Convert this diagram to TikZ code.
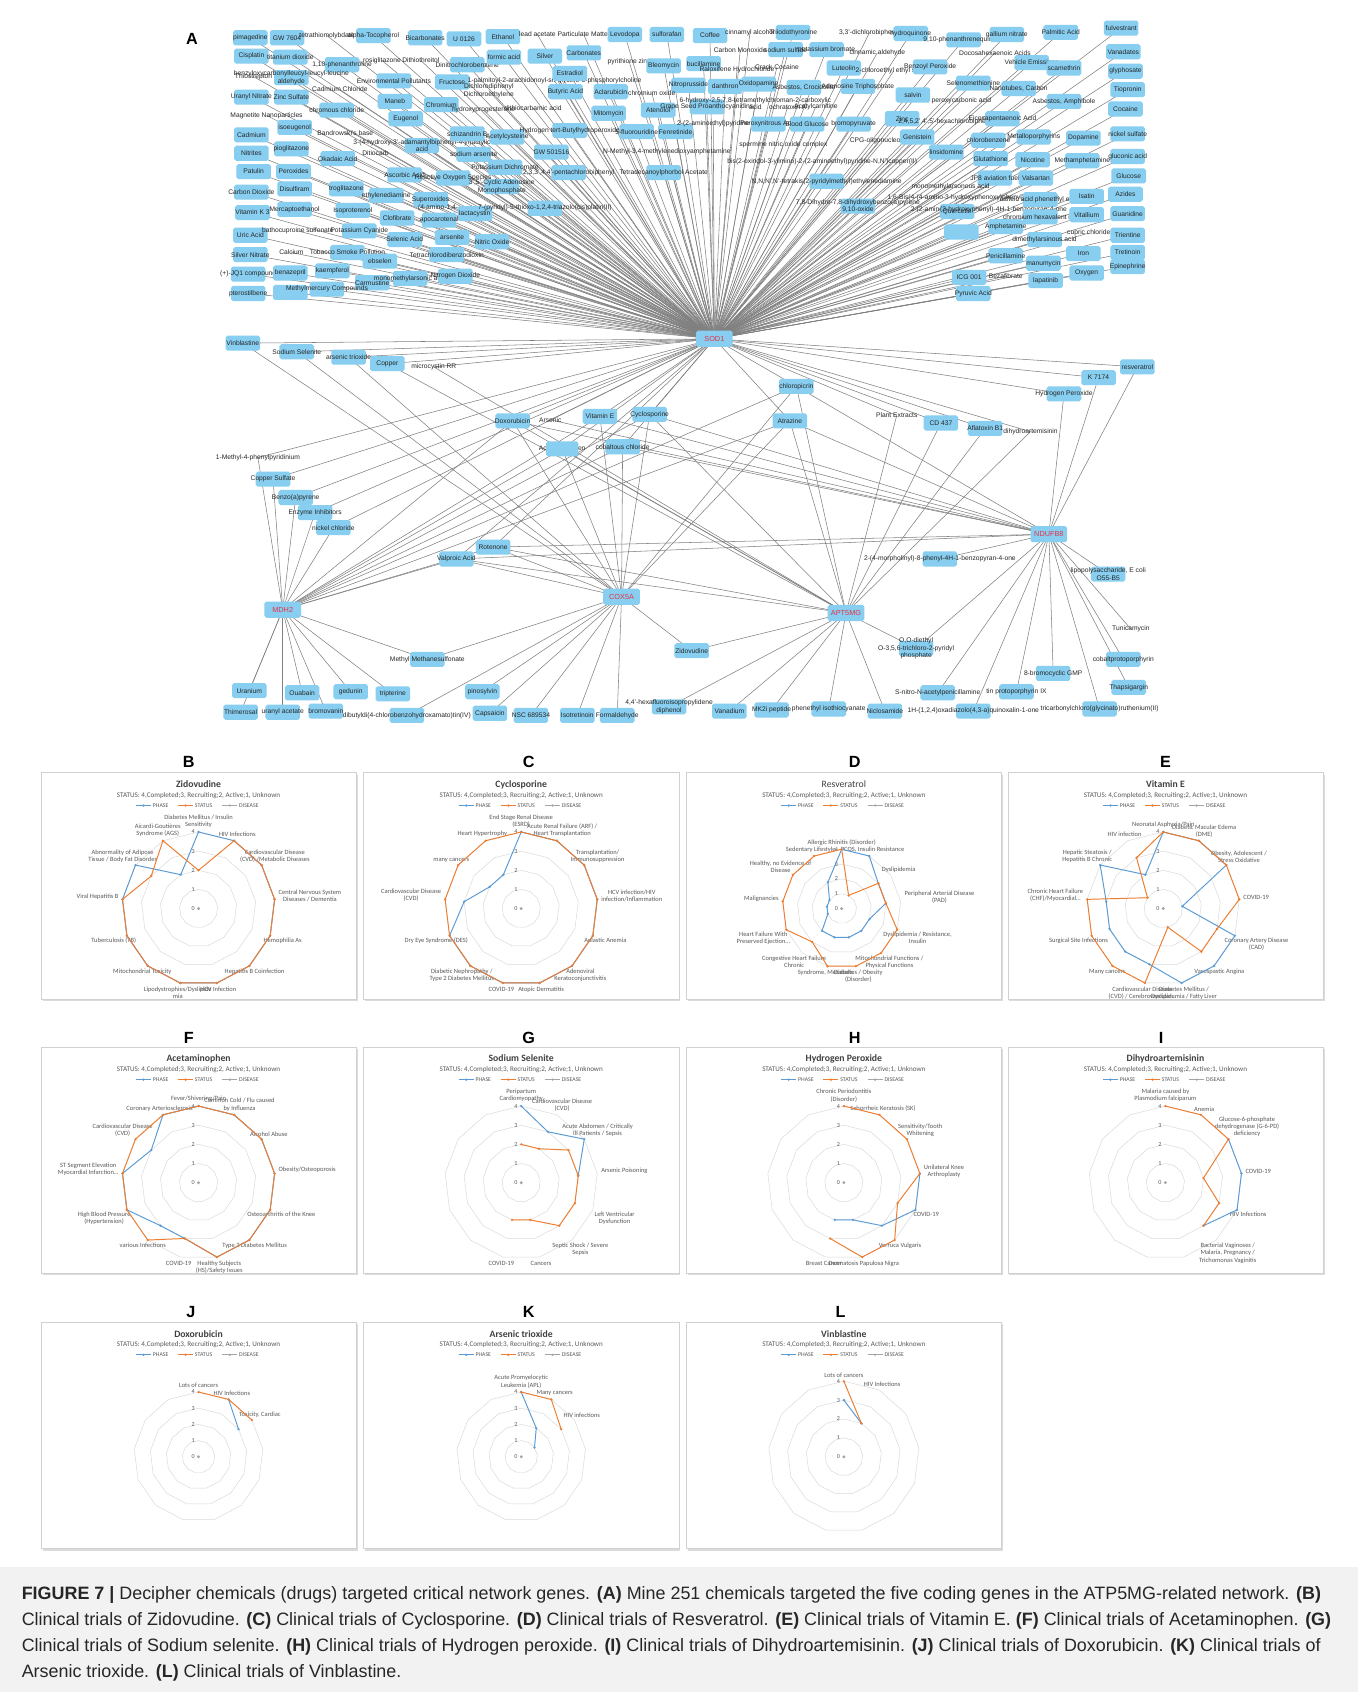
\documentclass[tikz,border=0pt]{standalone}
\usepackage{fontspec}
\setmainfont{Liberation Sans}
\newfontfamily\calfont{Carlito}
\usetikzlibrary{calc}
\pgfdeclarelayer{back}
\pgfdeclarelayer{bg}
\pgfsetlayers{back,bg,main}
\definecolor{nodeblue}{RGB}{135,206,240}
\definecolor{hubred}{RGB}{230,50,70}
\definecolor{edgegray}{RGB}{128,128,128}
\definecolor{xlblue}{RGB}{91,155,213}
\definecolor{xlorange}{RGB}{237,125,49}
\definecolor{xlgray}{RGB}{165,165,165}
\definecolor{gridgray}{RGB}{217,217,217}
\newcounter{nc}
\tikzset{
 bx/.style={rectangle,rounded corners=1.8pt,fill=nodeblue,minimum width=32pt,minimum height=14pt,inner sep=0pt},
 tx/.style={font=\fontsize{6.2}{7}\selectfont,inner sep=0pt,align=center,text=black!85},
 hub/.style={bx,minimum width=34pt,minimum height=15pt,font=\fontsize{6.8}{7}\selectfont,text=hubred},
 edge/.style={draw=edgegray,line width=0.5pt},
 ctitle/.style={font=\calfont\bfseries\fontsize{9}{10}\selectfont,text=black!75,inner sep=0pt},
 csub/.style={font=\calfont\fontsize{6.6}{7}\selectfont,text=black!65,inner sep=0pt},
 cleg/.style={font=\calfont\fontsize{5.4}{6}\selectfont,text=black!65,inner sep=0pt},
 clab/.style={font=\calfont\fontsize{6}{6.6}\selectfont,text=black!65,inner sep=0.6pt,align=center},
 cnum/.style={font=\calfont\fontsize{5.6}{6}\selectfont,text=black!65,inner sep=0pt},
 plet/.style={font=\bfseries\fontsize{15}{16}\selectfont,inner sep=0pt},
 capt/.style={font=\fontsize{16.6}{19}\selectfont,text=black!85,anchor=west,inner sep=0pt},
 bline/.style={draw=xlblue,line width=0.9pt,line join=round},
 oline/.style={draw=xlorange,line width=0.9pt,line join=round}
}
\newcommand\topb[3]{\stepcounter{nc}\node[bx] (b\arabic{nc}) at (#1,#2) {};\node[tx] (b\arabic{nc}l) at (#1,#2) {#3};\begin{pgfonlayer}{bg}\draw[edge] (b\arabic{nc}.center) -- (sod.center);\end{pgfonlayer}}
\newcommand\topt[3]{\stepcounter{nc}\node[tx] (b\arabic{nc}) at (#1,#2) {#3};\begin{pgfonlayer}{bg}\draw[edge] (b\arabic{nc}.center) -- (sod.center);\end{pgfonlayer}}
\newcommand\lnb[4]{\node[bx] (#1) at (#2,#3) {};\node[tx] (#1l) at (#2,#3) {#4};}
\newcommand\lnt[4]{\node[tx] (#1) at (#2,#3) {#4};}
% panel: left top title
\newcommand\panel[3]{%
 \fill[black!14] ({#1+1.5},{#2+1.8}) rectangle ({#1+293.5},{#2+212});
 \draw[black!18,fill=white,line width=0.4pt] (#1,#2) rectangle ({#1+292},{#2+210});
 \node[ctitle] (pti) at ({#1+146},{#2+11}) {#3};
 \node[csub] (psu) at ({#1+146},{#2+21}) {STATUS: 4,Completed;3, Recruiting;2, Active;1, Unknown};
 \draw[xlblue,line width=0.8pt] ({#1+88},{#2+30.5}) -- ({#1+102},{#2+30.5});
 \fill[xlblue] ({#1+95},{#2+30.5}) circle (1.2);
 \node[cleg,anchor=west] (pl1) at ({#1+103.5},{#2+30.5}) {PHASE};
 \draw[xlorange,line width=0.8pt] ({#1+127},{#2+30.5}) -- ({#1+141},{#2+30.5});
 \fill[xlorange] ({#1+134},{#2+30.5}) circle (1.2);
 \node[cleg,anchor=west] (pl2) at ({#1+142.5},{#2+30.5}) {STATUS};
 \draw[xlgray,line width=0.8pt] ({#1+168},{#2+30.5}) -- ({#1+182},{#2+30.5});
 \fill[xlgray] ({#1+175},{#2+30.5}) circle (1.2);
 \node[cleg,anchor=west] (pl3) at ({#1+183.5},{#2+30.5}) {DISEASE};
}
% radar: cx cy R n labels blue orange closed bluestart
\newcommand\radar[9]{%
\begin{scope}[shift={(#1,#2)}]
 \foreach \k in {1,...,4}{\pgfmathsetmacro\rr{\k*#3/4}
   \draw[gridgray,line width=0.45pt] (0,-\rr) \foreach \i in {1,...,#4}{ -- ({\rr*sin(\i*360/#4)},{-\rr*cos(\i*360/#4)})} -- cycle;}
 \foreach \k in {0,...,4}{\node[cnum] (rn\k) at (-5,{-\k*#3/4}) {\k};}
 \foreach \lab [count=\i from 0] in {#5}{%
   \pgfmathsetmacro\ang{mod(630-\i*360/#4,360)}%
   \pgfmathsetmacro\ax{(#3+3)*sin(\i*360/#4)}%
   \pgfmathsetmacro\ay{-(#3+3)*cos(\i*360/#4)}%
   \node[clab,anchor=\ang] (rl\i) at (\ax,\ay) {\lab};}
 \pgfmathtruncatemacro\st{#9+1}%
 \foreach \v [count=\i from #9] in {#6}{\coordinate (bp\i) at ({\v*#3/4*sin(\i*360/#4)},{-\v*#3/4*cos(\i*360/#4)});\xdef\nb{\i}}
 \ifnum#8=1 \draw[bline] (bp#9) \foreach \i in {\st,...,\nb}{ -- (bp\i)} -- cycle;
 \else \draw[bline] (bp#9) \foreach \i in {\st,...,\nb}{ -- (bp\i)};\fi
 \foreach \i in {#9,...,\nb}{\fill[xlblue] (bp\i) circle (1.2);}
 \foreach \v [count=\i from 0] in {#7}{\coordinate (op\i) at ({\v*#3/4*sin(\i*360/#4)},{-\v*#3/4*cos(\i*360/#4)});\xdef\nb{\i}}
 \ifnum#8=1 \draw[oline] (op0) \foreach \i in {1,...,\nb}{ -- (op\i)} -- cycle;
 \else \draw[oline] (op0) \foreach \i in {1,...,\nb}{ -- (op\i)};\fi
 \foreach \i in {0,...,\nb}{\fill[xlorange] (op\i) circle (1.2);}
 \fill[xlgray] (0,0) circle (1.5);
\end{scope}}

\begin{document}
\begin{tikzpicture}[x=1pt,y=-1pt]
\useasboundingbox (0,0) rectangle (1258,1568);
\begin{pgfonlayer}{back}
\fill[white] (0,0) rectangle (1258,1568);
\fill[black!5] (0,1452) rectangle (1258,1568);
\end{pgfonlayer}

\node[plet] (letA) at (178,36) {A};

% hubs
\node[hub] (sod) at (662,314) {SOD1};
\node[hub] (mdh) at (262,565) {MDH2};
\node[hub] (cox) at (576,553) {COX5A};
\node[hub] (apt) at (784,568) {APT5MG};
\node[hub] (ndu) at (972,495) {NDUFB8};

% ---------- chemicals linked to SOD1 (top cloud) ----------
\topb{232}{35}{pimagedine}
\topb{266}{35}{GW 7604}
\topt{303}{33}{tetrathiomolybdate}
\topb{346}{33}{alpha-Tocopherol}
\topb{394}{35}{Bicarbonates}
\topb{430}{36}{U 0126}
\topb{466}{34}{Ethanol}
\topt{498}{32}{lead acetate}
\topt{541}{32}{Particulate Matter}
\topb{579}{32}{Levodopa}
\topb{618}{32}{sulforafan}
\topb{658}{33}{Coffee}
\topb{735}{30}{Triiodothyronine}
\topt{695}{30}{cinnamyl alcohol}
\topt{806}{30}{3,3'-dichlorobiphenyl}
\topb{844}{31}{hydroquinone}
\topb{893}{37}{9,10-phenanthrenequinone}
\topb{933}{32}{gallium nitrate}
\topb{983}{30}{Palmitic Acid}
\topb{1039}{26}{fulvestrant}
\topb{233}{52}{Cisplatin}
\topb{269}{53}{titanium dioxide}
\topb{317}{60}{1,10-phenanthroline}
\topt{354}{56}{rosiglitazone}
\topt{390}{56}{Dithiothreitol}
\topb{433}{60}{Dinitrochlorobenzene}
\topb{467}{53}{formic acid}
\topb{505}{52}{Silver}
\topb{541}{49}{Carbonates}
\topt{583}{57}{pyrithione zinc}
\topb{615}{61}{Bleomycin}
\topb{652}{59}{bucillamine}
\topt{686}{46}{Carbon Monoxide}
\topb{728}{46}{sodium sulfide}
\topb{766}{46}{potassium bromate}
\topt{813}{49}{cinnamic aldehyde}
\topt{922}{49}{Docosahexaenoic Acids}
\topb{1041}{48}{Vanadates}
\topt{235}{71}{Thiostrepton}
\topb{270}{72}{benzyloxycarbonylleucyl-leucyl-leucine\\aldehyde}
\topt{315}{83}{Cadmium Chloride}
\topb{365}{75}{Environmental Pollutants}
\topb{419}{76}{Fructose}
\topt{514}{75}{1-palmitoyl-2-arachidonoyl-sn-glycero-3-phosphorylcholine}
\topt{453}{84}{Dichlorodiphenyl\\Dichloroethylene}
\topb{528}{68}{Estradiol}
\topb{638}{79}{Nitroprusside}
\topb{672}{80}{danthron}
\topt{683}{65}{Raloxifene Hydrochloride}
\topt{720}{62}{Crack Cocaine}
\topb{782}{63}{Luteolin}
\topt{828}{66}{2-chloroethyl ethyl sulfide}
\topb{862}{62}{Benzoyl Peroxide}
\topb{956}{58}{Vehicle Emissions}
\topb{986}{63}{scamethrin}
\topb{1043}{66}{glyphosate}
\topb{233}{90}{Uranyl Nitrate}
\topb{270}{90}{Zinc Sulfate}
\topb{366}{94}{Maneb}
\topb{409}{97}{Chromium}
\topt{448}{102}{hydroxyprogesterone}
\topb{524}{85}{Butyric Acid}
\topb{566}{85}{Aclarubicin}
\topt{604}{86}{chromium oxide}
\topb{703}{78}{Oxidopamine}
\topb{745}{81}{Asbestos, Crocidolite}
\topb{795}{80}{Adenosine Triphosphate}
\topb{846}{88}{salvin}
\topb{902}{77}{Selenomethionine}
\topt{891}{93}{peroxycarbonic acid}
\topb{944}{82}{Nanotubes, Carbon}
\topb{1045}{83}{Tiopronin}
\topb{986}{94}{Asbestos, Amphibole}
\topb{1043}{101}{Cocaine}
\topt{247}{107}{Magnetite Nanoparticles}
\topb{312}{102}{chromous chloride}
\topb{376}{110}{Eugenol}
\topt{494}{100}{dithiocarbamic acid}
\topb{564}{105}{Mitomycin}
\topb{610}{102}{Atenolol}
\topb{655}{99}{Grape Seed Proanthocyanidins}
\topt{700}{96}{6-hydroxy-2,5,7,8-tetramethylchroman-2-carboxylic\\acid}
\topt{730}{99}{ochratoxin A}
\topt{756}{99}{Acetylcarnitine}
\topb{836}{110}{Zinc}
\topt{877}{113}{2,4,5,2',4',5'-hexachlorobiphenyl}
\topb{929}{110}{Eicosapentaenoic Acid}
\topb{233}{125}{Cadmium}
\topb{273}{118}{isoeugenol}
\topt{320}{123}{Bandrowski's base}
\topb{391}{135}{3-(4-hydroxy-3'-adamantylbiphenyl-4-yl)acrylic\\acid}
\topb{433}{124}{schizandrin B}
\topb{470}{127}{Acetylcysteine}
\topb{528}{121}{Hydrogen tert-Butylhydroperoxide}
\topb{590}{122}{5-fluorouridine}
\topb{626}{122}{Fenretinide}
\topt{661}{115}{2-(2-aminoethyl)pyridine}
\topb{712}{115}{Peroxynitrous Acid}
\topb{748}{115}{Blood Glucose}
\topb{791}{115}{bromopyruvate}
\topt{816}{130}{CPG-oligonucleotide}
\topb{850}{127}{Genistein}
\topb{877}{141}{linsidomine}
\topb{916}{130}{chlorobenzene}
\topb{958}{127}{Metalloporphyrins}
\topb{1004}{128}{Dopamine}
\topb{1045}{124}{nickel sulfate}
\topb{233}{142}{Nitrites}
\topb{270}{138}{pioglitazone}
\topb{313}{147}{Okadaic Acid}
\topt{348}{142}{Ditiocarb}
\topb{439}{143}{sodium arsenite}
\topb{511}{141}{GW 501516}
\topt{618}{141}{N-Methyl-3,4-methylenedioxyamphetamine}
\topt{726}{134}{spermine nitric oxide complex}
\topt{762}{150}{bis(2-oxindol-3-ylimino)-2-(2-aminoethyl)pyridine-N,N')copper(II)}
\topb{918}{147}{Glutathione}
\topb{957}{148}{Nicotine}
\topb{1003}{149}{Methamphetamine}
\topb{1045}{145}{gluconic acid}
\topb{235}{159}{Patulin}
\topb{272}{159}{Peroxides}
\topb{375}{162}{Ascorbic Acid}
\topb{420}{165}{Reactive Oxygen Species}
\topb{468}{155}{Potassium Dichromate}
\topb{465}{173}{3',5'-Cyclic Adenosine\\Monophosphate}
\topb{527}{160}{2,3,3',4,4'-pentachlorobiphenyl}
\topb{615}{160}{Tetradecanoylphorbol Acetate}
\topb{766}{168}{N,N,N',N'-tetrakis(2-pyridylmethyl)ethylenediamine}
\topb{922}{165}{JP8 aviation fuel}
\topb{960}{165}{Valsartan}
\topb{1046}{163}{Glucose}
\topb{233}{178}{Carbon Dioxide}
\topb{273}{175}{Disulfiram}
\topb{321}{175}{troglitazone}
\topb{358}{181}{ethylenediamine}
\topb{399}{185}{Superoxides}
\topt{406}{193}{(4-amino-1,4-}
\topb{440}{198}{lactacystin}
\topb{505}{193}{7-(pyridyl)-5-thioxo-1,2,4-triazolo(cis)platin(II)}
\topt{881}{173}{monomethylarsonous acid}
\topt{902}{183}{1,6-Bis(4-(4-amino-3-hydroxyphenoxy)phenyl)diamantane}
\topb{964}{185}{caffeic acid phenethyl ester}
\topb{1007}{182}{Isatin}
\topb{1043}{180}{Azides}
\topb{795}{191}{7,8-Dihydro-7,8-dihydroxybenzo(a)pyrene\\9,10-oxide}
\topt{859}{194}{2-(2-amino}
\topb{887}{196}{Quercetin}
\topt{930}{194}{(3-hydroxyphenyl)-4H-1-benzopyran-4-one}
\topb{964}{201}{chromium hexavalent ion}
\topb{1007}{199}{Vitallium}
\topb{1045}{198}{Guanidine}
\topb{234}{197}{Vitamin K 3}
\topb{273}{194}{Mercaptoethanol}
\topb{327}{195}{Isoproterenol}
\topb{368}{202}{Clofibrate}
\topb{407}{204}{apocarotenal}
\topb{232}{218}{Uric Acid}
\topt{276}{214}{bathocuproine sulfonate}
\topb{333}{214}{Potassium Cyanide}
\topb{375}{222}{Selenic Acid}
\topb{419}{220}{arsenite}
\topb{456}{224}{Nitric Oxide}
\topb{891}{215}{}
\topb{932}{210}{Amphetamine}
\topt{1009}{216}{cupric chloride}
\topb{968}{222}{dimethylarsinous acid}
\topb{1045}{218}{Trientine}
\topb{232}{236}{Silver Nitrate}
\topt{270}{234}{Calcium}
\topb{322}{234}{Tobacco Smoke Pollution}
\topb{352}{242}{ebselen}
\topb{414}{236}{Tetrachlorodibenzodioxin}
\topb{932}{237}{Penicillamine}
\topb{967}{244}{manumycin}
\topb{1004}{235}{Iron}
\topb{1045}{234}{Tretinoin}
\topb{1045}{247}{Epinephrine}
\topb{230}{254}{(+)-JQ1 compound}
\topb{269}{253}{benazepril}
\topb{308}{251}{kaempferol}
\topb{345}{262}{Carmustine}
\topb{380}{258}{monomethylarsonic acid}
\topb{422}{256}{Nitrogen Dioxide}
\topb{898}{257}{ICG 001}
\topt{932}{256}{Bezafibrate}
\topb{969}{260}{lapatinib}
\topb{1007}{253}{Oxygen}
\topb{230}{272}{pterostilbene}
\topb{269}{271}{}
\topb{303}{268}{Methylmercury Compounds}
\topb{902}{272}{Pyruvic Acid}

% ---------- lower network ----------
\lnb{vinb}{225}{318}{Vinblastine}
\lnb{sodsel}{275}{326}{Sodium Selenite}
\lnb{arstri}{323}{331}{arsenic trioxide}
\lnb{copper}{359}{337}{Copper}
\lnt{micro}{402}{340}{microcystin RR}
\lnb{doxo}{475}{390}{Doxorubicin}
\lnt{arsenic}{510}{389}{Arsenic}
\lnb{vite}{556}{386}{Vitamin E}
\lnb{cyclo}{602}{384}{Cyclosporine}
\lnt{acet}{521}{416}{Acetaminophen}
\node[bx,minimum width=30pt] (acetbox) at (521,416) {};
\lnb{cobalt}{577}{414}{cobaltous chloride}
\lnb{chloro}{738}{358}{chloropicrin}
\lnb{atraz}{732}{390}{Atrazine}
\lnt{plant}{831}{385}{Plant Extracts}
\lnb{cd}{872}{392}{CD 437}
\lnb{afla}{913}{397}{Aflatoxin B1}
\lnt{dihydro}{955}{400}{dihydroartemisinin}
\lnb{k71}{1018}{350}{K 7174}
\lnb{resv}{1054}{340}{resveratrol}
\lnb{hpero}{986}{365}{Hydrogen Peroxide}
\lnt{mpp}{239}{424}{1-Methyl-4-phenylpyridinium}
\lnb{cuso}{253}{444}{Copper Sulfate}
\lnb{bap}{274}{461}{Benzo(a)pyrene}
\lnb{enzi}{292}{475}{Enzyme Inhibitors}
\lnb{nicl}{309}{489}{nickel chloride}
\lnb{rot}{457}{507}{Rotenone}
\lnb{valp}{423}{518}{Valproic Acid}
\lnb{morph}{871}{518}{2-(4-morpholinyl)-8-phenyl-4H-1-benzopyran-4-one}
\lnb{lps}{1027}{532}{lipopolysaccharide, E coli\\O55-B5}
\lnt{tunica}{1048}{583}{Tunicamycin}
\lnb{oodi}{849}{601}{O,O-diethyl\\O-3,5,6-trichloro-2-pyridyl\\phosphate}
\lnb{cobpp}{1041}{611}{cobaltprotoporphyrin}
\lnb{brgmp}{976}{624}{8-bromocyclic GMP}
\lnb{thaps}{1046}{637}{Thapsigargin}
\lnb{snap}{869}{642}{S-nitro-N-acetylpenicillamine}
\lnb{tinpp}{942}{641}{tin protoporphyrin IX}
\lnb{zido}{641}{603}{Zidovudine}
\lnb{mms}{396}{611}{Methyl Methanesulfonate}
\lnb{uran}{231}{640}{Uranium}
\lnb{ouab}{280}{642}{Ouabain}
\lnb{gedu}{325}{641}{gedunin}
\lnb{tript}{364}{643}{tripterine}
\lnb{pinos}{447}{641}{pinosylvin}
\lnb{thim}{223}{660}{Thimerosal}
\lnb{urac}{262}{660}{uranyl acetate}
\lnb{bromov}{302}{659}{bromovanin}
\lnb{dibut}{377}{663}{dibutyldi(4-chlorobenzohydroxamato)tin(IV)}
\lnb{caps}{454}{661}{Capsaicin}
\lnb{nsc}{492}{663}{NSC 689534}
\lnb{isot}{535}{663}{Isotretinoin}
\lnb{formal}{572}{663}{Formaldehyde}
\lnb{hexa}{620}{655}{4,4'-hexafluoroisopropylidene\\diphenol}
\lnb{vana}{676}{659}{Vanadium}
\lnb{mk2}{715}{658}{MK2i peptide}
\lnb{pitc}{768}{657}{phenethyl isothiocyanate}
\lnb{niclo}{820}{659}{Niclosamide}
\lnb{oxad}{902}{659}{1H-(1,2,4)oxadiazolo(4,3-a)quinoxalin-1-one}
\lnb{ruth}{1019}{657}{tricarbonylchloro(glycinato)ruthenium(II)}

\begin{pgfonlayer}{bg}
\foreach \a in {vinb,sodsel,arstri,copper,micro,doxo,arsenic,vite,cyclo,acet,cobalt,chloro,atraz,plant,cd,afla,dihydro,k71,resv,hpero,mpp,cuso,bap,enzi,nicl,rot,valp}{\draw[edge] (\a.center) -- (sod.center);}
\foreach \a in {uran,thim,urac,ouab,bromov,gedu,tript,mms,mpp,cuso,bap,enzi,nicl,doxo,vite,acet,cyclo,chloro,atraz,rot,valp,cobalt}{\draw[edge] (\a.center) -- (mdh.center);}
\foreach \a in {vinb,sodsel,arstri,doxo,vite,acet,cobalt,chloro,atraz,rot,valp,mms,zido,nsc,isot,formal,caps,pinos,dibut,cyclo}{\draw[edge] (\a.center) -- (cox.center);}
\foreach \a in {copper,micro,doxo,cyclo,acet,chloro,atraz,plant,cd,afla,dihydro,zido,hexa,vana,mk2,pitc,niclo,oodi,rot,valp}{\draw[edge] (\a.center) -- (apt.center);}
\foreach \a in {k71,resv,hpero,arsenic,cyclo,cobalt,chloro,atraz,rot,valp,morph,lps,tunica,cobpp,thaps,ruth,brgmp,tinpp,oxad,snap,oodi,vite,doxo}{\draw[edge] (\a.center) -- (ndu.center);}
\end{pgfonlayer}

% ---------- panel letters ----------
\node[plet] (lB) at (175,706) {B};
\node[plet] (lC) at (490,706) {C};
\node[plet] (lD) at (792,706) {D};
\node[plet] (lE) at (1080,706) {E};
\node[plet] (lF) at (175,962) {F};
\node[plet] (lG) at (490,962) {G};
\node[plet] (lH) at (792,962) {H};
\node[plet] (lI) at (1076,962) {I};
\node[plet] (lJ) at (177,1216) {J};
\node[plet] (lK) at (490,1216) {K};
\node[plet] (lL) at (779,1216) {L};

% ---------- radar panels ----------
\panel{38}{716}{Zidovudine}
\radar{184}{842}{71}{13}{{Diabetes Mellitus / Insulin\\Sensitivity},{HIV Infections},{Cardiovascular Disease\\(CVD) /Metabolic Diseases},{Central Nervous System\\Diseases / Dementia},{Hemophilia As},{Hepatitis B Coinfection},{HCV Infection},{Lipodystrophies/Dyslipide\\mia},{Mitochondrial Toxicity},{Tuberculosis (TB)},{Viral Hepatitis B},{Abnormality of Adipose\\Tissue / Body Fat Disorder},{Aicardi-Goutières\\Syndrome (AGS)}}{4,4,4,4,4,4,4,4,4,4,4,4,2}{2,4,4,4,4,4,4,4,4,4,4,3,4}{1}{0}

\panel{337}{716}{Cyclosporine}
\radar{483}{842}{71}{13}{{End Stage Renal Disease\\(ESRD)},{Acute Renal Failure (ARF) /\\Heart Transplantation},{Transplantation/\\Immunosuppression},{HCV infection/HIV\\infection/Inflammation},{Aplastic Anemia},{Adenoviral\\Keratoconjunctivitis},{Atopic Dermatitis},{COVID-19},{Diabetic Nephropathy /\\Type 2 Diabetes Mellitus},{Dry Eye Syndrome (DES)},{Cardiovascular Disease\\(CVD)},{many cancers},{Heart Hypertrophy}}{4,4,4,4,4,4,4,4,4,4,3,2,2}{4,4,4,4,4,4,4,4,4,4,4,4,4}{1}{0}

\panel{636}{716}{\mdseries Resveratrol}
\radar{780}{842}{55}{13}{{Allergic Rhinitis (Disorder)},{PCOS, Insulin Resistance},{Dyslipidemia},{Peripheral Arterial Disease\\(PAD)},{Dyslipidemia / Resistance,\\Insulin},{Mitochondrial Functions /\\Physical Functions},{Diabetes / Obesity\\(Disorder)},{Syndrome, Metabolic},{Congestive Heart Failure\\Chronic},{Heart Failure With\\Preserved Ejection\ldots},{Malignancies},{Healthy, no Evidence of\\Disease},{Sedentary Lifestyle}}{4,4,3,3,2,2,2,2,2,1,1,1,2}{4,1,3,3,4,4,4,4,3,4,4,4,4}{1}{0}

\panel{934}{716}{Vitamin E}
\radar{1078}{842}{71}{13}{{Neonatal Asphyxia/Pain},{Diabetic Macular Edema\\(DME)},{Obesity, Adolescent /\\Stress Oxidative},{COVID-19},{Coronary Artery Disease\\(CAD)},{Vasospastic Angina},{Diabetes Mellitus /\\Dyslipidemia / Fatty Liver},{Cardiovascular Disease\\(CVD) / Cerebrovascular\ldots},{Many cancers},{Surgical Site Infections},{Chronic Heart Failure\\(CHF)/Myocardial\ldots},{Hepatic Steatosis /\\Hepatitis B Chronic},{HIV infection}}{4,4,4,1,4,4,4,3,3,3,3,4,2}{4,4,4,4,3,3,1,4,4,4,4,1,3}{1}{0}

\panel{38}{970}{Acetaminophen}
\radar{184}{1096}{71}{13}{{Fever/Shivering/Pain},{Common Cold / Flu caused\\by Influenza},{Alcohol Abuse},{Obesity/Osteoporosis},{Osteoarthritis of the Knee},{Type 2 Diabetes Mellitus},{Healthy Subjects\\(HS)/Safety Issues},{COVID-19},{various Infections},{High Blood Pressure\\(Hypertension)},{ST Segment Elevation\\Myocardial Infarction\ldots},{Cardiovascular Disease\\(CVD)},{Coronary Arteriosclerosis}}{4,4,4,4,4,4,4,3,3,4,4,3,4}{4,4,4,4,4,4,4,3,4,4,4,4,4}{1}{0}

\panel{337}{970}{Sodium Selenite}
\radar{483}{1096}{71}{13}{{Peripartum\\Cardiomyopathy},{Cardiovascular Disease\\(CVD)},{Acute Abdomen / Critically\\Ill Patients / Sepsis},{Arsenic Poisoning},{Left Ventricular\\Dysfunction},{Septic Shock / Severe\\Sepsis},{Cancers},{COVID-19}}{4,3,4,3}{2,2,3,3,3,3,2,2}{0}{0}

\panel{636}{970}{Hydrogen Peroxide}
\radar{782}{1096}{71}{13}{{Chronic Periodontitis\\(Disorder)},{Seborrheic Keratosis (SK)},{Sensitivity/Tooth\\Whitening},{Unilateral Knee\\Arthroplasty},{COVID-19},{Verruca Vulgaris},{Dermatosis Papulosa Nigra},{Breast Cancer}}{4,4,3,2,2}{4,4,4,4,3,4,4,3}{0}{3}

\panel{934}{970}{Dihydroartemisinin}
\radar{1080}{1096}{71}{13}{{Malaria caused by\\Plasmodium falciparum},{Anemia},{Glucose-6-phosphate\\dehydrogenase (G-6-PD)\\deficiency},{COVID-19},{HIV Infections},{Bacterial Vaginoses /\\Malaria, Pregnancy /\\Trichomonas Vaginitis}}{4,4,4,3}{4,4,4,2,3,3}{0}{2}

\panel{38}{1225}{Doxorubicin}
\radar{184}{1350}{60}{13}{{Lots of cancers},{HIV Infections},{Toxicity, Cardiac}}{4,3}{4,4,4}{0}{1}

\panel{337}{1225}{Arsenic trioxide}
\radar{483}{1350}{60}{13}{{Acute Promyelocytic\\Leukemia (APL)},{Many cancers},{HIV infections}}{4,2,1}{4,4,3}{0}{0}

\panel{636}{1225}{Vinblastine}
\radar{782}{1350}{70}{13}{{Lots of cancers},{HIV Infections}}{3,2}{4,2}{0}{0}

% ---------- caption ----------
\node[capt] (cap1) at (20,1478) {\textbf{FIGURE 7 |} Decipher chemicals (drugs) targeted critical network genes. \textbf{(A)} Mine 251 chemicals targeted the five coding genes in the ATP5MG-related network. \textbf{(B)}};
\node[capt] (cap2) at (20,1502) {Clinical trials of Zidovudine. \textbf{(C)} Clinical trials of Cyclosporine. \textbf{(D)} Clinical trials of Resveratrol. \textbf{(E)} Clinical trials of Vitamin E. \textbf{(F)} Clinical trials of Acetaminophen. \textbf{(G)}};
\node[capt] (cap3) at (20,1526) {Clinical trials of Sodium selenite. \textbf{(H)} Clinical trials of Hydrogen peroxide. \textbf{(I)} Clinical trials of Dihydroartemisinin. \textbf{(J)} Clinical trials of Doxorubicin. \textbf{(K)} Clinical trials of};
\node[capt] (cap4) at (20,1550) {Arsenic trioxide. \textbf{(L)} Clinical trials of Vinblastine.};
\end{tikzpicture}
\end{document}
